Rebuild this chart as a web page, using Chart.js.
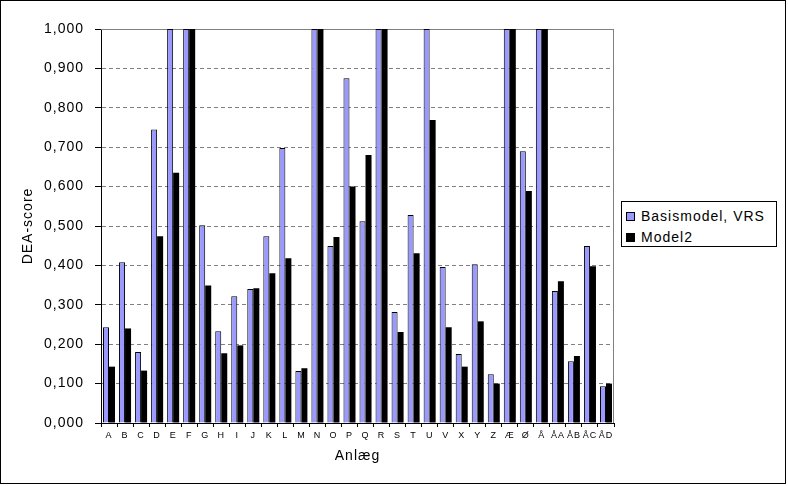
<!DOCTYPE html>
<html>
<head>
<meta charset="utf-8">
<script src="https://cdn.jsdelivr.net/npm/chart.js@4.4.1/dist/chart.umd.min.js"></script>
<style>
  body { margin: 0; background: #fff; }
  #wrap { position: relative; width: 788px; height: 486px; }
  #frame { position: absolute; left: 0; top: 0; width: 786px; height: 484px; border: 1px solid #000; box-sizing: border-box; pointer-events: none; }
  #legend { position: absolute; left: 621px; top: 201px; width: 156px; height: 46px; border: 1px solid #000; box-sizing: border-box; background: #fff;
            font-family: "Liberation Sans", Arial, sans-serif; font-size: 14px; letter-spacing: 1px; color: #000; }
  .item { position: absolute; left: 4px; height: 16px; line-height: 16px; white-space: nowrap; }
  .box { display: inline-block; width: 7px; height: 7px; border: 1px solid #000; vertical-align: middle; margin-right: 6px; position: relative; top: -1px; }
</style>
</head>
<body>
<div id="wrap">
  <canvas id="deaGraph" width="788" height="486"></canvas>
  <div id="legend"></div>
  <div id="frame"></div>
</div>
<script>
const categories = ['A','B','C','D','E','F','G','H','I','J','K','L','M','N','O','P',
                    'Q','R','S','T','U','V','X','Y','Z','Æ','Ø','Å','ÅA','ÅB','ÅC','ÅD'];
const seriesNames = ['Basismodel, VRS', 'Model2'];
const basisVrs = [0.243, 0.408, 0.180, 0.745, 1.000, 1.000, 0.502, 0.233, 0.322, 0.340, 0.474, 0.698,
                  0.132, 1.000, 0.449, 0.875, 0.512, 1.000, 0.282, 0.528, 1.000, 0.396, 0.175, 0.403,
                  0.124, 1.000, 0.690, 1.000, 0.335, 0.157, 0.449, 0.093];
const model2 = [0.143, 0.240, 0.133, 0.474, 0.635, 1.000, 0.349, 0.177, 0.197, 0.342, 0.380, 0.418,
                0.139, 1.000, 0.472, 0.600, 0.680, 1.000, 0.231, 0.431, 0.769, 0.243, 0.143, 0.258,
                0.100, 1.000, 0.589, 1.000, 0.360, 0.170, 0.398, 0.100];
const yMin = 0, yMax = 1, yStep = 0.1;

const ctx = document.getElementById('deaGraph');
const fontName = '"Liberation Sans", Arial, sans-serif';
const colors = ['#9999FF', '#000000'];

var chart;

// excel-ish wide text
const spacingPlugin = {
    id: 'spacing',
    beforeUpdate(c) { c.ctx.letterSpacing = '1px'; },
    beforeDraw(c) { c.ctx.letterSpacing = '1px'; }
};

// gray plot area border (top + right)
const plotBorder = {
    id: 'plotBorder',
    beforeDatasetsDraw(c) {
        const a = c.chartArea;
        const g = c.ctx;
        g.save();
        g.strokeStyle = '#808080';
        g.lineWidth = 1;
        g.setLineDash([]);
        g.beginPath();
        g.moveTo(a.left, a.top + 0.5);
        g.lineTo(a.right - 0.5, a.top + 0.5);
        g.lineTo(a.right - 0.5, a.bottom);
        g.stroke();
        g.restore();
    }
};

function renderLegend() {
    let html = '';
    for (let i in seriesNames) {
        html += '<div class="item" style="top:' + (6 + i * 21) + 'px"><span class="box" style="background:' +
                colors[i] + '"></span>' + seriesNames[i] + '</div>';
    }
    document.getElementById('legend').innerHTML = html;
}

function renderGraph() {
    chart = new Chart(ctx, {
        type: 'bar',
        data: {
            labels: categories,
            datasets: [{
                label: seriesNames[0],
                data: basisVrs,
                backgroundColor: colors[0],
                borderColor: '#000',
                borderWidth: 1,
                categoryPercentage: 0.75,
                barPercentage: 1.0
            }, {
                label: seriesNames[1],
                data: model2,
                backgroundColor: colors[1],
                borderColor: '#000',
                borderWidth: 0,
                categoryPercentage: 0.75,
                barPercentage: 1.0
            }]
        },
        options: {
            responsive: false,
            animation: false,
            devicePixelRatio: 1,
            layout: { padding: { left: 0, top: 29, right: 174, bottom: 0 } },
            plugins: {
                legend: { display: false },
                tooltip: { enabled: false }
            },
            scales: {
                x: {
                    afterFit: s => { s.height = 63; },
                    grid: {
                        offset: true,
                        drawOnChartArea: false,
                        tickLength: 4,
                        tickColor: '#000'
                    },
                    border: { color: '#000', width: 1 },
                    ticks: {
                        autoSkip: false,
                        maxRotation: 0,
                        minRotation: 0,
                        padding: 3,
                        color: '#000',
                        font: { family: fontName, size: 9 }
                    },
                    title: {
                        display: true,
                        text: 'Anlæg',
                        color: '#000',
                        padding: { top: 0, bottom: 21 },
                        font: { family: fontName, size: 14 }
                    }
                },
                y: {
                    min: yMin,
                    max: yMax,
                    afterFit: s => { s.width = 101; },
                    grid: {
                        color: c => c.tick && c.tick.value === 0 ? '#000' : '#808080',
                        tickColor: '#000',
                        tickLength: 6,
                        tickBorderDash: []
                    },
                    border: { color: '#000', width: 1, dash: [4, 3] },
                    ticks: {
                        stepSize: yStep,
                        padding: 11,
                        color: '#000',
                        font: { family: fontName, size: 14 },
                        callback: v => v.toFixed(3).replace('.', ',')
                    },
                    title: {
                        display: true,
                        text: 'DEA-score',
                        color: '#000',
                        padding: { top: 20, bottom: 0 },
                        font: { family: fontName, size: 14 }
                    }
                }
            }
        },
        plugins: [spacingPlugin, plotBorder]
    });
}

renderLegend();
renderGraph();
</script>
</body>
</html>
